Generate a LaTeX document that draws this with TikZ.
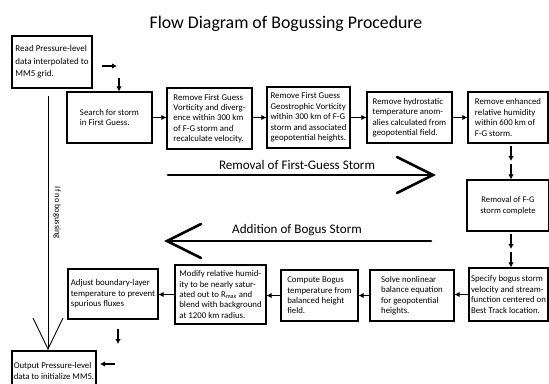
\documentclass[tikz,border=0pt]{standalone}
\usepackage{fontspec}
\setmainfont{Carlito}
\usetikzlibrary{arrows.meta}
\begin{document}
\begin{tikzpicture}[x=1pt,y=-1pt,
  box/.style={draw, line width=1.2pt, inner sep=1.5pt, align=left, font=\fontsize{8.8}{10.4}\selectfont},
  arr/.style={line width=1.5pt, -{Latex[length=5pt,width=5.5pt]}},
  bigline/.style={line width=2.6pt, line cap=round},
  thinline/.style={line width=0.9pt},
  biglabel/.style={font=\fontsize{13.1}{15}\selectfont}]
\fill[white] (0,0) rectangle (549,383);
\useasboundingbox (0,0) rectangle (549,383);
\node[font=\fontsize{17.8}{20}\selectfont] (title) at (286,24) {Flow Diagram of Bogussing Procedure};

% top row
\node[box, minimum width=80pt, minimum height=52pt, font=\fontsize{9}{12.5}\selectfont] (read) at (52,62) {Read Pressure-level\\data interpolated to\\MM5 grid.};
\node[box, minimum width=85pt, minimum height=51pt] (search) at (109.5,117.5) {Search for storm\\in First Guess.};
\node[box, minimum width=85pt, minimum height=61pt] (rem1) at (209.5,118.5) {Remove First Guess\\Vorticity and diverg-\\ence within 300 km\\of F-G storm and\\recalculate velocity.};
\node[box, minimum width=83pt, minimum height=61pt] (rem2) at (308.5,117.5) {Remove First Guess\\Geostrophic Vorticity\\within 300 km of F-G\\storm and associated\\geopotential heights.};
\node[box, minimum width=85pt, minimum height=51pt] (rem3) at (409.5,117.5) {Remove hydrostatic\\temperature anom-\\alies calculated from\\geopotential field.};
\node[box, minimum width=80pt, minimum height=51pt] (rem4) at (508,117.5) {Remove enhanced\\relative humidity\\within 600 km of\\F-G storm.};

% right column
\node[box, align=center, minimum width=82pt, minimum height=51pt, font=\fontsize{8.6}{11}\selectfont] (complete) at (508,205.5) {Removal of F-G\\storm complete};

% bottom row
\node[box, minimum width=79pt, minimum height=53pt] (specify) at (508.5,294.5) {Specify bogus storm\\velocity and stream-\\function centered on\\Best Track location.};
\node[box, minimum width=84pt, minimum height=51pt] (solve) at (412,295.5) {Solve nonlinear\\balance equation\\for geopotential\\heights.};
\node[box, minimum width=77pt, minimum height=51pt] (compute) at (319.5,295.5) {Compute Bogus\\temperature from\\balanced height\\field.};
\node[box, minimum width=91pt, minimum height=59pt] (modify) at (220.5,294.5) {Modify relative humid-\\ity to be nearly satur-\\ated out to R\textsubscript{max} and\\blend with background\\at 1200 km radius.};
\node[box, minimum width=90pt, minimum height=50pt] (adjust) at (113,294) {Adjust boundary-layer\\temperature to prevent\\spurious fluxes};
\node[box, minimum width=84pt, minimum height=40pt] (output) at (54,371) {Output Pressure-level\\data to initialize MM5.};

% connectors top row
\draw[arr] (search.east) -- (search.east -| rem1.west);
\draw[arr] (rem1.east |- search.east) -- (search.east -| rem2.west);
\draw[arr] (rem2.east) -- (rem2.east -| rem3.west);
\draw[arr] (rem3.east) -- (rem3.east -| rem4.west);
% connectors bottom row
\draw[arr] (specify.west) -- (specify.west -| solve.east);
\draw[arr] (solve.west) -- (solve.west -| compute.east);
\draw[arr] (compute.west) -- (compute.west -| modify.east);
\draw[arr] (modify.west) -- (modify.west -| adjust.east);

% free arrows
\coordinate (r1s) at (102,66); \coordinate (r1e) at (117,66);
\draw[arr] (r1s) -- (r1e);
\coordinate (d1s) at (119,78);
\draw[arr] (d1s) -- (d1s |- search.north);
\coordinate (a1) at (511,146); \coordinate (a2) at (511,161); \coordinate (a3) at (511,164);
\draw[arr] (a1) -- (a2);
\draw[arr] (a3) -- (a3 |- complete.north);
\coordinate (b1) at (511,234); \coordinate (b2) at (511,249); \coordinate (b3) at (511,252);
\draw[arr] (b1) -- (b2);
\draw[arr] (b3) -- (b3 |- specify.north);
\coordinate (c1) at (118,329); \coordinate (c2) at (118,344);
\draw[arr] (c1) -- (c2);
\coordinate (e1) at (115,364); \coordinate (e2) at (100,364);
\draw[arr] (e1) -- (e2);

% if no bogussing
\coordinate (nb1) at (48,96); \coordinate (nb2) at (48,349);
\coordinate (nbl) at (33,318); \coordinate (nbr) at (63,318);
\draw[thinline] (nb1) -- (nb2);
\draw[thinline] (nbl) -- (nb2) -- (nbr);
\node[rotate=-90, font=\fontsize{8.5}{10}\selectfont] (nobog) at (57,213) {If no bogussing};

% big arrows
\coordinate (rs) at (168,175); \coordinate (rt) at (433,175);
\coordinate (ru) at (397,157); \coordinate (rl) at (397,193);
\draw[bigline] (rs) -- (rt);
\draw[bigline] (ru) -- (rt) -- (rl);
\node[biglabel] (rlab) at (297,165) {Removal of First-Guess Storm};

\coordinate (ls) at (431,241); \coordinate (lt) at (167,241);
\coordinate (lu) at (201,224); \coordinate (ll) at (201,258);
\draw[bigline] (ls) -- (lt);
\draw[bigline] (lu) -- (lt) -- (ll);
\node[biglabel] (llab) at (297,230) {Addition of Bogus Storm};
\end{tikzpicture}
\end{document}
